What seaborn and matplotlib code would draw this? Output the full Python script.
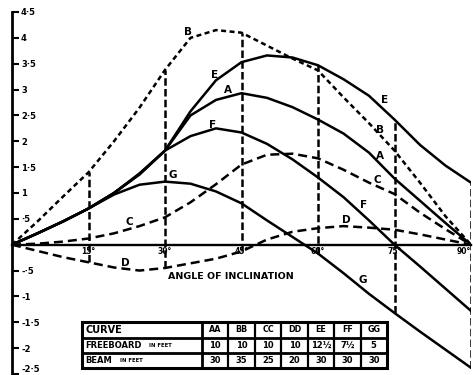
import matplotlib
matplotlib.use("Agg")
import matplotlib.pyplot as plt
import numpy as np
import pandas as pd
import seaborn as sns

# Righting moment curves against angle of inclination (every 5 degrees)
angles = list(range(0, 91, 5))
curve_A = [0, 0.22, 0.45, 0.70, 1.00, 1.36, 1.82, 2.50, 2.80, 2.93, 2.84, 2.66, 2.42, 2.15, 1.78, 1.28, 0.85, 0.42, 0]
curve_B = [0, 0.45, 0.93, 1.40, 2.00, 2.65, 3.38, 4.00, 4.15, 4.10, 3.85, 3.60, 3.37, 2.85, 2.35, 1.82, 1.20, 0.55, 0]
curve_C = [0, 0.02, 0.06, 0.12, 0.22, 0.36, 0.53, 0.82, 1.17, 1.55, 1.74, 1.76, 1.67, 1.45, 1.20, 0.98, 0.62, 0.30, 0]
curve_D = [0, -0.12, -0.24, -0.34, -0.44, -0.50, -0.45, -0.36, -0.27, -0.13, 0.10, 0.25, 0.32, 0.36, 0.33, 0.29, 0.20, 0.10, 0]
curve_E = [0, 0.22, 0.45, 0.70, 1.00, 1.38, 1.82, 2.58, 3.18, 3.53, 3.66, 3.62, 3.47, 3.20, 2.88, 2.42, 1.93, 1.53, 1.20]
curve_F = [0, 0.22, 0.45, 0.70, 1.00, 1.36, 1.82, 2.10, 2.25, 2.17, 1.95, 1.65, 1.30, 0.92, 0.47, 0.00, -0.42, -0.85, -1.28]
curve_G = [0, 0.22, 0.45, 0.70, 0.97, 1.16, 1.22, 1.18, 1.03, 0.80, 0.47, 0.15, -0.17, -0.55, -0.95, -1.32, -1.68, -2.03, -2.38]

curve_names = ["A", "B", "C", "D", "E", "F", "G"]
curve_values = [curve_A, curve_B, curve_C, curve_D, curve_E, curve_F, curve_G]

marked_angles = [15, 30, 45, 60, 75, 90]
x_tick_labels = ["15°", "30°", "45°", "60°", "75°", "90°"]
y_ticks = [-2.5, -2, -1.5, -1, -0.5, 0.5, 1, 1.5, 2, 2.5, 3, 3.5, 4, 4.5]
y_tick_labels = ["-2·5", "-2", "-1·5", "-1", "-·5", "·5", "1", "1·5", "2", "2·5", "3", "3·5", "4", "4·5"]

table_header = ["AA", "BB", "CC", "DD", "EE", "FF", "GG"]
freeboard_ft = ["10", "10", "10", "10", "12½", "7½", "5"]
beam_ft = ["30", "35", "25", "20", "30", "30", "30"]

# letter placements along the curves (angle, moment)
letter_spots = {
    "B": [(34.5, 4.11), (72.2, 2.22)],
    "E": [(39.8, 3.28), (73.1, 2.80)],
    "A": [(42.4, 2.99), (72.2, 1.72)],
    "F": [(39.4, 2.32), (69.0, 0.77)],
    "G": [(31.6, 1.35), (68.8, -0.68)],
    "C": [(23.1, 0.44), (71.6, 1.25)],
    "D": [(22.2, -0.35), (65.5, 0.48)],
}

sns.set_style("white")
plt.rcParams["font.family"] = ["DejaVu Sans"]
plt.rcParams["text.color"] = "black"
plt.rcParams["xtick.color"] = "black"
plt.rcParams["ytick.color"] = "black"

W, H = 473, 375
fig = plt.figure(figsize=(W / 100, H / 100), dpi=100)
fig.patch.set_facecolor("white")
ax = fig.add_axes([12 / W, 1 - 374 / H, 459 / W, 362 / H])
ax.set_facecolor("none")

frames = []
for name, vals in zip(curve_names, curve_values):
    frames.append(pd.DataFrame({"angle": angles, "moment": vals, "curve": name}))
df = pd.concat(frames, ignore_index=True)

dash_styles = {"A": "", "E": "", "F": "", "G": "",
               "B": (2.0, 1.4), "C": (3.6, 2.0), "D": (3.6, 2.0)}
sns.lineplot(data=df, x="angle", y="moment", hue="curve", style="curve",
             palette={n: "black" for n in curve_names}, dashes=dash_styles,
             linewidth=1.8, legend=False, estimator=None, sort=False, ax=ax)

# vertical ordinates spanning from the lowest to the highest curve
arr = np.array(curve_values)
idx = [angles.index(a) for a in marked_angles]
lows = arr[:, idx].min(axis=0)
highs = arr[:, idx].max(axis=0)
ax.vlines(marked_angles, lows, highs, colors="black", linewidth=1.8,
          linestyles=[(0, (3.0, 1.3))])

for letter, spots in letter_spots.items():
    for (xa, ya) in spots:
        ax.text(xa, ya, letter, fontsize=7.5, fontweight="bold",
                ha="center", va="center", color="black")

ax.text(42.9, -0.62, "ANGLE OF INCLINATION", fontsize=6.8, fontweight="bold",
        ha="center", va="center", color="black")

ax.set_xlim(0, 90)
ax.set_ylim(-2.5, 4.5)
ax.set_xlabel("")
ax.set_ylabel("")
for s in ["top", "right"]:
    ax.spines[s].set_visible(False)
ax.spines["left"].set_linewidth(2.0)
ax.spines["left"].set_color("black")
ax.spines["bottom"].set_position(("data", 0))
ax.spines["bottom"].set_linewidth(1.7)
ax.spines["bottom"].set_color("black")

ax.set_yticks(y_ticks)
ax.set_yticklabels(y_tick_labels, fontsize=6, fontweight="bold")
ax.tick_params(axis="y", left=True, direction="in", length=5, width=1.5,
               pad=-6.5, colors="black")
for lab in ax.get_yticklabels():
    lab.set_horizontalalignment("left")
ax.get_yticklabels()[0].set_verticalalignment("bottom")

ax.set_xticks(marked_angles)
ax.set_xticklabels(x_tick_labels, fontsize=5.5, fontweight="bold")
ax.tick_params(axis="x", bottom=False, length=0, pad=1.5, colors="black")
ax.get_xticklabels()[-1].set_horizontalalignment("right")

# data table in pixel coordinates
tax = fig.add_axes([0, 0, 1, 1])
tax.set_xlim(0, W)
tax.set_ylim(H, 0)
tax.axis("off")
tax.patch.set_alpha(0)

x_left, x_split, x_right = 82, 202, 387
col_w = (x_right - x_split) / len(table_header)
row_y = [322, 337.5, 353, 368]
tax.add_patch(plt.Rectangle((x_left, row_y[0]), x_right - x_left, row_y[-1] - row_y[0],
                            fill=False, lw=2.2, edgecolor="black"))
for yy in row_y[1:-1]:
    tax.plot([x_left, x_right], [yy, yy], color="black", lw=2.0)
tax.plot([x_split, x_split], [row_y[0], row_y[-1]], color="black", lw=2.0)
for i in range(1, len(table_header)):
    xx = x_split + i * col_w
    tax.plot([xx, xx], [row_y[0], row_y[-1]], color="black", lw=1.6)

mid = [(row_y[i] + row_y[i + 1]) / 2 for i in range(3)]
tax.text(85, mid[0], "CURVE", fontsize=7, fontweight="bold", ha="left", va="center")
tax.text(85, mid[1], "FREEBOARD", fontsize=6, fontweight="bold", ha="left", va="center")
tax.text(149, mid[1], "IN FEET", fontsize=3.8, fontweight="bold", ha="left", va="center")
tax.text(85, mid[2], "BEAM", fontsize=6, fontweight="bold", ha="left", va="center")
tax.text(120, mid[2], "IN FEET", fontsize=3.8, fontweight="bold", ha="left", va="center")
for i, (h, fb, bm) in enumerate(zip(table_header, freeboard_ft, beam_ft)):
    cx = x_split + (i + 0.5) * col_w
    tax.text(cx, mid[0], h, fontsize=5.8, fontweight="bold", ha="center", va="center")
    tax.text(cx, mid[1], fb, fontsize=6, fontweight="bold", ha="center", va="center")
    tax.text(cx, mid[2], bm, fontsize=6, fontweight="bold", ha="center", va="center")

fig.savefig("out.png", dpi=100, facecolor="white")
